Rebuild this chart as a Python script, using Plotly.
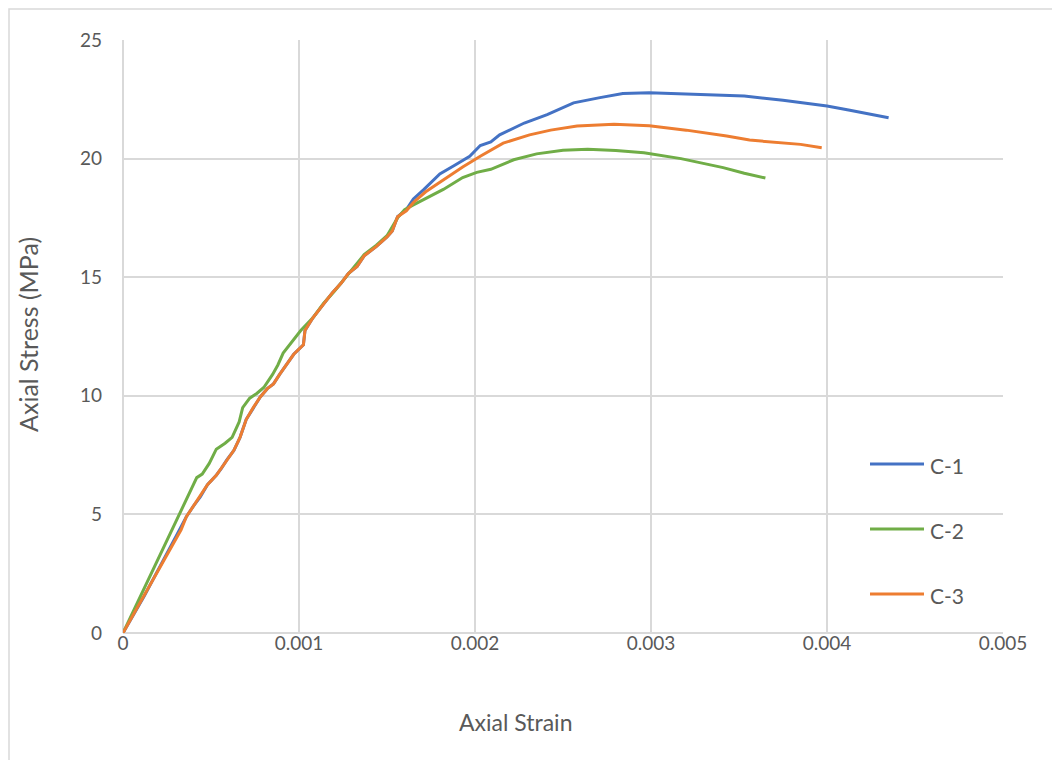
import plotly.graph_objects as go

# ---- data ----
c1_strain = [0, 0.00012, 0.00031, 0.00036, 0.00040, 0.00044, 0.00048, 0.00053, 0.00056, 0.00059, 0.00063,
             0.000665, 0.00070, 0.00074, 0.00078, 0.00082, 0.000855, 0.00089, 0.00093, 0.00097, 0.001025,
             0.001034, 0.00108, 0.00114, 0.00119, 0.00124, 0.00128, 0.00133, 0.00137, 0.00144, 0.00150,
             0.00153, 0.00156, 0.00161, 0.00165, 0.00171, 0.00180, 0.00188, 0.00197, 0.00203, 0.00209,
             0.00214, 0.00220, 0.00228, 0.00241, 0.00256, 0.00271, 0.00284, 0.00299, 0.00328, 0.00353,
             0.00375, 0.00400, 0.00413, 0.00435]
c1_stress = [0, 1.55, 4.2, 4.9, 5.35, 5.75, 6.25, 6.65, 6.95, 7.3, 7.7,
             8.25, 9.0, 9.5, 9.95, 10.3, 10.5, 10.9, 11.35, 11.75, 12.15,
             12.75, 13.3, 13.85, 14.35, 14.75, 15.15, 15.45, 15.9, 16.3, 16.7,
             16.95, 17.55, 17.85, 18.3, 18.7, 19.35, 19.7, 20.1, 20.55, 20.7,
             21.0, 21.2, 21.5, 21.85, 22.35, 22.57, 22.74, 22.78, 22.72, 22.64,
             22.46, 22.22, 22.04, 21.72]

c2_strain = [0, 0.000419, 0.00045, 0.00049, 0.00053, 0.00058, 0.00062, 0.00066, 0.00068, 0.00072,
             0.00076, 0.00080, 0.00085, 0.00088, 0.00091, 0.00096, 0.00101, 0.00108, 0.00114, 0.00120,
             0.00128, 0.00134, 0.00137, 0.00144, 0.00150, 0.00156, 0.00160, 0.00165, 0.00174, 0.00182,
             0.00193, 0.00201, 0.00209, 0.00222, 0.00235, 0.00250, 0.00264, 0.00280, 0.00296, 0.00317,
             0.00341, 0.00353, 0.00365]
c2_stress = [0, 6.55, 6.7, 7.15, 7.75, 8.0, 8.25, 8.9, 9.5, 9.9,
             10.1, 10.35, 10.9, 11.3, 11.8, 12.3, 12.75, 13.3, 13.9, 14.4,
             15.15, 15.7, 15.95, 16.35, 16.75, 17.5, 17.85, 18.05, 18.4, 18.7,
             19.2, 19.42, 19.55, 19.95, 20.2, 20.35, 20.39, 20.34, 20.25, 20.0,
             19.62, 19.38, 19.18]

c3_strain = [0, 0.00033, 0.00036, 0.00040, 0.00044, 0.00048, 0.00053, 0.00056, 0.00059, 0.00063,
             0.000665, 0.00070, 0.00074, 0.00078, 0.00082, 0.000855, 0.00089, 0.00093, 0.00097, 0.001025,
             0.001034, 0.00108, 0.00114, 0.00119, 0.00124, 0.00128, 0.00133, 0.00137, 0.00144, 0.00150,
             0.00153, 0.00156, 0.00161, 0.00165, 0.00172, 0.00182, 0.00193, 0.00203, 0.00216, 0.00231,
             0.00243, 0.00258, 0.00279, 0.00299, 0.00320, 0.00343, 0.00356, 0.00385, 0.00397]
c3_stress = [0, 4.35, 4.9, 5.35, 5.75, 6.25, 6.65, 6.95, 7.3, 7.7,
             8.25, 9.0, 9.5, 9.95, 10.3, 10.5, 10.9, 11.35, 11.75, 12.15,
             12.75, 13.3, 13.85, 14.35, 14.75, 15.15, 15.45, 15.9, 16.3, 16.7,
             16.95, 17.55, 17.8, 18.15, 18.6, 19.1, 19.65, 20.1, 20.65, 21.0,
             21.2, 21.37, 21.45, 21.38, 21.2, 20.95, 20.78, 20.6, 20.46]

series_names = ["C-1", "C-2", "C-3"]
series_x = [c1_strain, c2_strain, c3_strain]
series_y = [c1_stress, c2_stress, c3_stress]
series_colors = ["#4472C4", "#70AD47", "#ED7D31"]

x_ticks = [0, 0.001, 0.002, 0.003, 0.004, 0.005]
x_tick_labels = ["0", "0.001", "0.002", "0.003", "0.004", "0.005"]
y_ticks = [0, 5, 10, 15, 20, 25]

FONT = "Lato, 'Open Sans', sans-serif"
TXT = "#595959"
GRID = "#D9D9D9"

fig = go.Figure()
for name, xs, ys, col in zip(series_names, series_x, series_y, series_colors):
    fig.add_trace(go.Scatter(x=xs, y=ys, mode="lines", name=name, showlegend=False,
                             line=dict(color=col, width=3, shape="linear")))

# plot area in reference pixels: x 123..1003, y 39..632
PL, PR, PT, PB = 123, 1003, 39, 632
pw, ph = PR - PL, PB - PT
DX, DY = 8, 7  # page body offset compensation
W, H = 1060, 760


def px(x):
    return (x - PL) / pw


def py(y):
    return (PB - y) / ph


shapes = [
    dict(type="rect", xref="paper", yref="paper", layer="between",
         x0=px(837), x1=px(995), y0=py(622), y1=py(438),
         fillcolor="white", line=dict(width=0)),
    dict(type="rect", xref="paper", yref="paper", layer="above",
         x0=px(DX + 1), x1=px(1080), y0=py(790), y1=py(DY + 1),
         fillcolor="rgba(0,0,0,0)", line=dict(color=GRID, width=1.5)),
]
annotations = [
    dict(text="Axial Strain", xref="paper", yref="paper", x=px(515), y=py(721),
         xanchor="center", yanchor="middle", showarrow=False,
         font=dict(size=23, color=TXT, family=FONT)),
    dict(text="Axial Stress (MPa)", xref="paper", yref="paper", x=px(28), y=py(334),
         xanchor="center", yanchor="middle", showarrow=False, textangle=-90,
         font=dict(size=25, color=TXT, family=FONT)),
]
# legend (drawn manually to match the long legend keys)
leg_y = [463, 528, 593]
for name, col, ly in zip(series_names, series_colors, leg_y):
    shapes.append(dict(type="line", xref="paper", yref="paper", layer="above",
                       x0=px(870), x1=px(924), y0=py(ly), y1=py(ly),
                       line=dict(color=col, width=3)))
    annotations.append(dict(text=name, xref="paper", yref="paper", x=px(928), y=py(ly + 1),
                            xanchor="left", yanchor="middle", showarrow=False,
                            font=dict(size=21, color=TXT, family=FONT)))

fig.update_layout(
    width=W, height=H,
    margin=dict(l=PL - DX, r=W - (PL - DX) - pw, t=PT - DY, b=H - (PT - DY) - ph, autoexpand=False),
    paper_bgcolor="white", plot_bgcolor="white",
    font=dict(family=FONT, color=TXT, size=19),
    showlegend=False,
    xaxis=dict(range=[0, 0.005], tickvals=x_ticks, ticktext=x_tick_labels,
               showgrid=True, gridcolor=GRID, gridwidth=1.5,
               zeroline=True, zerolinecolor=GRID, zerolinewidth=1.5,
               showline=False, ticks="", ticklabelstandoff=-3,
               tickfont=dict(size=19, color=TXT, family=FONT)),
    yaxis=dict(range=[0, 25], tickvals=y_ticks,
               showgrid=True, gridcolor=GRID, gridwidth=1.5,
               zeroline=True, zerolinecolor=GRID, zerolinewidth=1.5,
               showline=False, ticks="", ticklabelstandoff=20,
               tickfont=dict(size=19, color=TXT, family=FONT)),
    shapes=shapes,
    annotations=annotations,
)

fig.write_html("out.html")
